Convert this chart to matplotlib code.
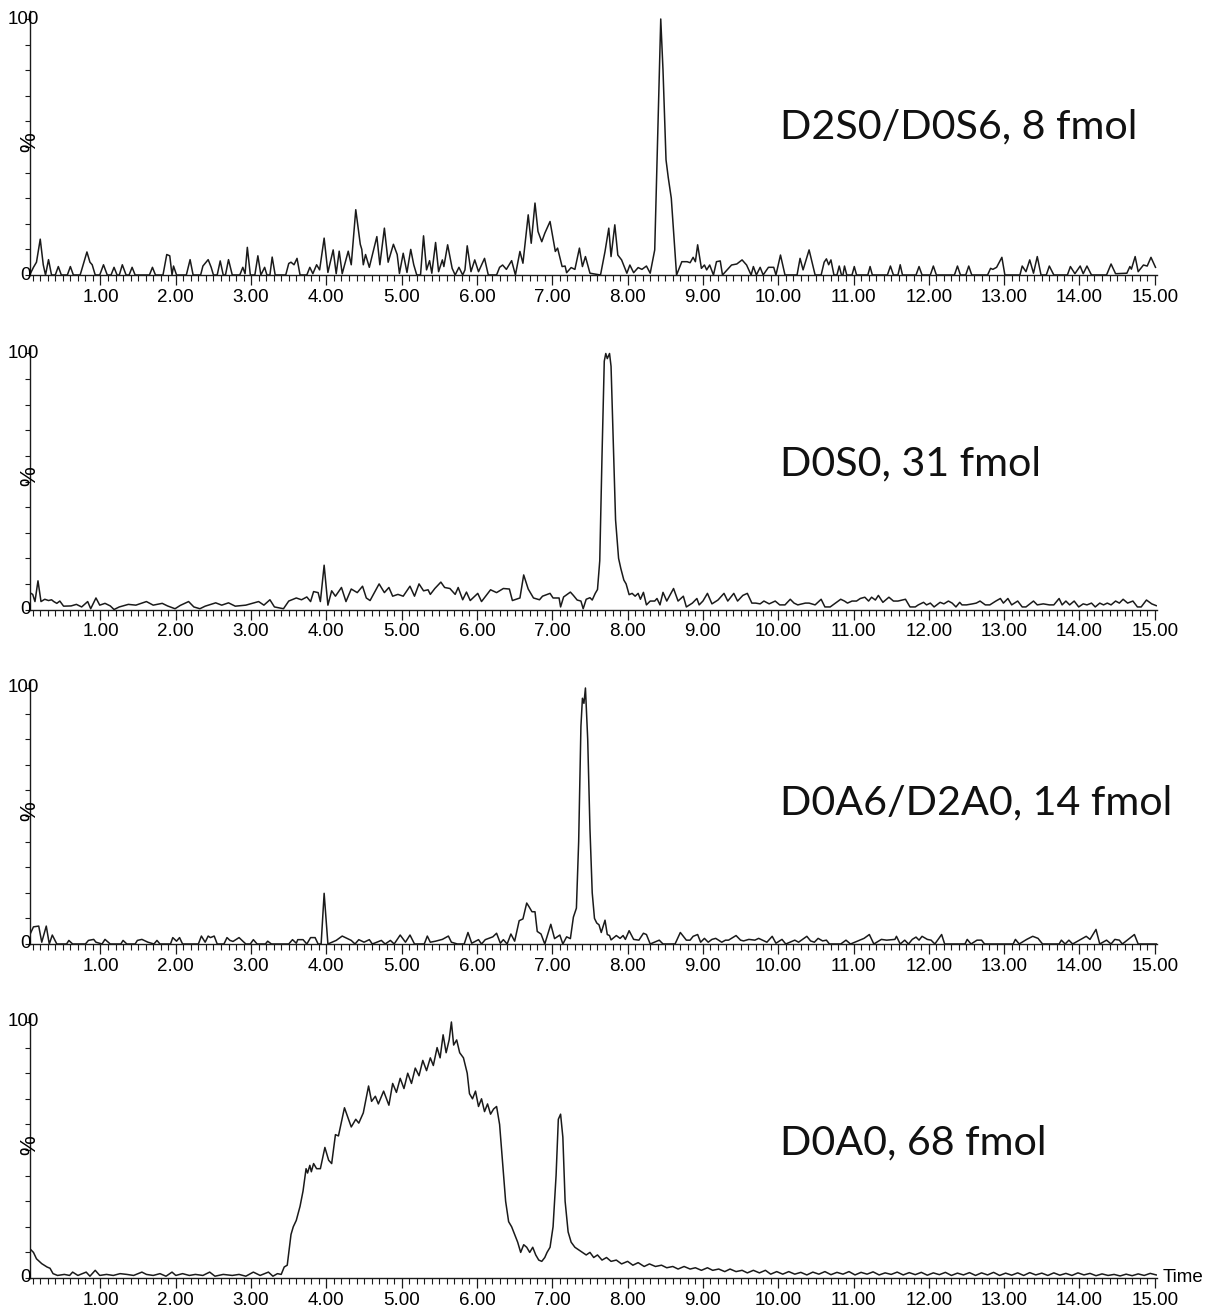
import matplotlib
matplotlib.use("Agg")
import matplotlib.pyplot as plt
from matplotlib.ticker import MultipleLocator, FixedLocator, NullFormatter

# ---------------- data: (time [min], relative intensity [%]) vertices
trace_d2s0 = [
    (0.06, 0), (0.11, 3), (0.15, 5), (0.20, 14), (0.24, 4), (0.27, 0), (0.31, 6), (0.35, 0),
    (0.40, 0), (0.44, 3.3), (0.48, 0), (0.56, 0), (0.60, 3.3), (0.64, 0), (0.73, 0), (0.82, 9),
    (0.86, 5), (0.89, 4), (0.93, 0), (0.99, 0), (1.04, 4), (1.09, 0), (1.14, 0), (1.18, 3),
    (1.22, 0), (1.25, 0), (1.29, 4), (1.34, 0), (1.38, 0), (1.42, 3), (1.46, 0), (1.65, 0),
    (1.69, 3), (1.73, 0), (1.83, 0), (1.88, 8), (1.92, 7.5), (1.95, 0), (1.97, 3.5), (2.01, 0),
    (2.14, 0), (2.19, 6), (2.23, 0), (2.33, 0), (2.36, 3.5), (2.43, 6), (2.47, 3), (2.50, 0),
    (2.55, 0), (2.59, 5.5), (2.63, 0), (2.66, 0), (2.70, 6), (2.75, 0), (2.85, 0), (2.89, 3),
    (2.92, 0.5), (2.95, 10.8), (2.99, 0), (3.05, 0), (3.09, 7.5), (3.13, 0), (3.18, 3), (3.21, 0),
    (3.25, 0), (3.28, 7), (3.32, 0), (3.46, 0), (3.50, 4.5), (3.53, 5), (3.57, 4), (3.61, 6.5),
    (3.65, 0), (3.74, 0), (3.78, 3), (3.82, 0.5), (3.87, 4), (3.91, 2), (3.97, 14.4), (4.02, 1),
    (4.09, 9.8), (4.13, 0.5), (4.17, 9.3), (4.21, 0.5), (4.29, 9.3), (4.33, 4), (4.39, 25.5),
    (4.45, 12), (4.47, 10), (4.49, 4), (4.52, 8), (4.57, 3), (4.67, 15), (4.71, 4), (4.77, 18.3),
    (4.82, 5), (4.89, 12), (4.94, 8), (4.97, 0.6), (5.02, 8.5), (5.07, 1), (5.12, 10), (5.16, 4),
    (5.20, 0), (5.25, 0), (5.29, 15.3), (5.33, 2), (5.37, 5.6), (5.40, 0.7), (5.45, 12.7),
    (5.49, 1.3), (5.54, 5.9), (5.56, 3.3), (5.61, 11.8), (5.67, 2.6), (5.71, 0), (5.76, 3),
    (5.81, 0), (5.84, 2), (5.87, 11.4), (5.92, 1.3), (5.97, 5.9), (6.02, 1.3), (6.10, 6.5),
    (6.15, 0), (6.26, 0), (6.30, 3), (6.34, 3.9), (6.39, 2.2), (6.46, 5.6), (6.51, 0), (6.57, 9.2),
    (6.61, 4.6), (6.68, 23.5), (6.72, 12.4), (6.77, 28.1), (6.81, 17), (6.86, 13), (6.90, 16.3),
    (6.97, 20.9), (7.04, 9.2), (7.07, 10.5), (7.13, 3.3), (7.17, 3.5), (7.19, 0.9), (7.25, 2.9),
    (7.30, 2.2), (7.36, 10.5), (7.40, 3.3), (7.44, 7.2), (7.50, 0.7), (7.64, 0), (7.70, 9.2),
    (7.75, 18.3), (7.78, 7.2), (7.83, 19.6), (7.87, 7.8), (7.92, 5.9), (7.99, 0.7), (8.03, 3.9),
    (8.08, 0.9), (8.14, 2.9), (8.19, 2.2), (8.25, 3.5), (8.30, 0.7), (8.36, 9.8), (8.40, 55),
    (8.44, 100), (8.47, 80), (8.51, 45), (8.54, 38), (8.58, 30), (8.65, 0), (8.72, 5.2),
    (8.79, 5.2), (8.83, 4.8), (8.87, 6.9), (8.90, 5.2), (8.93, 11.8), (8.98, 2.6), (9.02, 3.9),
    (9.05, 2), (9.09, 3.9), (9.14, 0), (9.18, 5.2), (9.23, 5.5), (9.26, 0), (9.38, 3.9),
    (9.45, 4.3), (9.52, 5.9), (9.58, 3.9), (9.64, 0), (9.67, 3.3), (9.71, 0), (9.76, 3), (9.80, 0),
    (9.87, 3), (9.94, 3), (9.97, 0), (10.03, 7.8), (10.09, 0), (10.25, 0), (10.29, 6.5),
    (10.33, 2), (10.41, 9.8), (10.49, 0), (10.57, 0), (10.61, 5), (10.64, 6.3), (10.67, 4),
    (10.70, 5.9), (10.74, 0), (10.78, 0), (10.81, 3.5), (10.84, 0), (10.86, 0), (10.88, 3.5),
    (10.91, 0), (10.98, 0), (11.01, 3.3), (11.04, 0), (11.19, 0), (11.22, 3.3), (11.25, 0),
    (11.45, 0), (11.49, 3.5), (11.53, 0), (11.59, 0), (11.62, 4), (11.65, 0), (11.83, 0),
    (11.87, 3.3), (11.91, 0), (12.02, 0), (12.06, 3.5), (12.10, 0), (12.34, 0), (12.38, 3.5),
    (12.42, 0), (12.49, 0), (12.53, 3.5), (12.57, 0), (12.78, 0), (12.82, 2.6), (12.85, 2.2),
    (12.90, 3), (12.97, 6.9), (13.01, 0), (13.21, 0), (13.24, 3.5), (13.29, 1.3), (13.34, 5.9),
    (13.39, 0.7), (13.44, 7.2), (13.49, 0), (13.56, 0), (13.60, 3.5), (13.66, 0), (13.84, 0),
    (13.88, 3.3), (13.94, 0.5), (14.01, 3.5), (14.05, 0.5), (14.10, 3.5), (14.16, 0), (14.36, 0),
    (14.42, 4.3), (14.48, 0.5), (14.63, 0.7), (14.67, 3.3), (14.69, 2.3), (14.74, 7.2),
    (14.78, 1.3), (14.85, 3.9), (14.90, 3.5), (14.95, 6.9), (15.01, 3),
]

trace_d0s0 = [
    (0.06, 6.6), (0.10, 5.9), (0.13, 3.1), (0.17, 11.2), (0.21, 3.1), (0.26, 4.0), (0.31, 3.5),
    (0.35, 3.8), (0.38, 3.1), (0.42, 2.4), (0.46, 3.3), (0.51, 1.3), (0.61, 1.4), (0.68, 2.0),
    (0.75, 1.0), (0.83, 3.1), (0.87, 0.3), (0.94, 4.5), (0.99, 1.7), (1.06, 2.4), (1.13, 1.4),
    (1.18, 0), (1.25, 1.0), (1.37, 2.0), (1.47, 1.7), (1.61, 3.1), (1.70, 1.7), (1.82, 2.4),
    (1.89, 1.4), (1.99, 0.3), (2.06, 1.6), (2.17, 3.1), (2.24, 1.0), (2.32, 0.3), (2.39, 1.3),
    (2.53, 2.6), (2.61, 1.7), (2.70, 2.6), (2.79, 1.3), (2.93, 1.7), (3.10, 3.1), (3.17, 1.7),
    (3.25, 3.8), (3.31, 1.0), (3.38, 0.6), (3.43, 0.3), (3.50, 3.3), (3.60, 4.5), (3.67, 3.8),
    (3.74, 4.9), (3.79, 3.1), (3.83, 7.0), (3.89, 6.6), (3.92, 3.1), (3.97, 17.3), (4.02, 1.7),
    (4.07, 7.3), (4.12, 5.2), (4.20, 8.6), (4.26, 3.1), (4.33, 8.0), (4.41, 6.6), (4.48, 9.1),
    (4.53, 4.5), (4.58, 3.5), (4.70, 10.0), (4.77, 6.6), (4.83, 8.6), (4.88, 5.2), (4.95, 5.9),
    (5.02, 5.2), (5.11, 9.1), (5.17, 5.2), (5.23, 10.0), (5.29, 7.3), (5.35, 7.7), (5.38, 5.9),
    (5.44, 8.2), (5.52, 10.7), (5.57, 8.6), (5.64, 8.2), (5.71, 5.9), (5.75, 8.6), (5.81, 3.8),
    (5.86, 6.8), (5.91, 3.5), (6.01, 6.3), (6.06, 3.1), (6.18, 7.7), (6.26, 6.6), (6.35, 8.2),
    (6.43, 8.0), (6.47, 3.5), (6.57, 4.5), (6.62, 13.5), (6.68, 8.0), (6.75, 4.5), (6.83, 3.8),
    (6.87, 5.2), (6.97, 6.3), (7.01, 4.5), (7.09, 4.5), (7.11, 1.0), (7.15, 4.9), (7.24, 6.8),
    (7.28, 5.5), (7.33, 3.7), (7.38, 3.3), (7.41, 0.3), (7.45, 4.0), (7.50, 4.6), (7.53, 3.7),
    (7.57, 6.3), (7.60, 7.8), (7.63, 19), (7.66, 60), (7.69, 97), (7.71, 100), (7.73, 98),
    (7.76, 100), (7.78, 95), (7.81, 65), (7.84, 35), (7.88, 20), (7.91, 16), (7.95, 11.5),
    (7.98, 10), (8.02, 5.8), (8.06, 6.3), (8.10, 5.2), (8.14, 6.3), (8.17, 4.0), (8.21, 6.7),
    (8.25, 1.8), (8.30, 3.3), (8.36, 3.3), (8.39, 4.3), (8.43, 1.8), (8.47, 6.7), (8.52, 3.3),
    (8.61, 8.2), (8.67, 3.3), (8.74, 5.2), (8.78, 1.0), (8.86, 2.5), (8.92, 4.3), (8.95, 1.8),
    (9.00, 3.3), (9.06, 6.3), (9.12, 2.2), (9.20, 3.7), (9.28, 6.3), (9.33, 3.3), (9.41, 6.3),
    (9.46, 3.3), (9.53, 5.5), (9.59, 6.3), (9.65, 2.5), (9.70, 2.5), (9.76, 2.2), (9.81, 3.3),
    (9.88, 2.2), (9.96, 3.3), (10.02, 1.8), (10.09, 1.8), (10.16, 4.0), (10.21, 2.5),
    (10.26, 1.8), (10.36, 2.5), (10.41, 2.5), (10.49, 1.8), (10.57, 4.0), (10.62, 1.0),
    (10.69, 1.0), (10.76, 2.5), (10.83, 4.0), (10.88, 3.3), (10.92, 2.5), (10.98, 3.3),
    (11.04, 3.3), (11.09, 4.3), (11.15, 4.8), (11.20, 3.3), (11.24, 4.8), (11.29, 3.7),
    (11.33, 5.5), (11.39, 2.8), (11.47, 4.8), (11.53, 3.3), (11.59, 3.3), (11.69, 4.0),
    (11.75, 1.0), (11.82, 1.0), (11.86, 1.8), (11.93, 2.8), (11.97, 1.8), (12.02, 2.5),
    (12.07, 1.0), (12.15, 2.8), (12.20, 2.2), (12.26, 3.3), (12.31, 2.5), (12.36, 1.0),
    (12.41, 2.8), (12.44, 1.8), (12.50, 1.8), (12.58, 2.2), (12.63, 2.5), (12.68, 3.3),
    (12.75, 1.8), (12.81, 1.8), (12.89, 3.3), (12.95, 4.3), (12.99, 2.5), (13.05, 4.3),
    (13.10, 1.8), (13.18, 3.3), (13.24, 1.0), (13.29, 1.0), (13.39, 3.3), (13.44, 1.8),
    (13.52, 2.2), (13.60, 1.8), (13.66, 1.8), (13.73, 4.3), (13.77, 1.8), (13.82, 3.3),
    (13.87, 1.8), (13.93, 3.3), (13.99, 1.0), (14.05, 2.2), (14.10, 1.8), (14.16, 2.5),
    (14.21, 1.0), (14.27, 2.5), (14.32, 1.8), (14.37, 2.5), (14.42, 1.8), (14.48, 3.3),
    (14.53, 2.5), (14.58, 4.0), (14.64, 2.5), (14.71, 3.3), (14.77, 1.0), (14.82, 1.0),
    (14.89, 3.7), (14.96, 2.2), (15.02, 1.5),
]

trace_d0a6 = [
    (0.06, 3.5), (0.11, 6.7), (0.18, 7), (0.22, 0.7), (0.28, 7), (0.32, 0), (0.36, 3.5),
    (0.42, 0), (0.55, 0), (0.58, 1.4), (0.63, 0), (0.80, 0), (0.84, 1.4), (0.91, 1.8),
    (0.94, 0.7), (1.02, 0), (1.06, 1.8), (1.13, 0), (1.27, 0), (1.30, 1.4), (1.35, 0), (1.46, 0),
    (1.49, 1.4), (1.55, 1.8), (1.63, 0.7), (1.71, 0), (1.75, 1.4), (1.79, 0), (1.93, 0),
    (1.96, 2.5), (2.01, 1.1), (2.05, 2.5), (2.09, 0), (2.30, 0), (2.34, 3.1), (2.39, 0.7),
    (2.43, 3.1), (2.46, 2.5), (2.51, 3.1), (2.55, 0), (2.64, 0), (2.68, 2.5), (2.72, 1.4),
    (2.76, 1.0), (2.84, 2.5), (2.93, 0), (2.99, 0), (3.03, 1.7), (3.08, 0), (3.19, 0),
    (3.22, 1.1), (3.27, 0), (3.50, 0), (3.55, 1.7), (3.60, 0.3), (3.62, 1.7), (3.69, 1.7),
    (3.74, 0), (3.79, 2.5), (3.85, 2.5), (3.89, 0), (3.93, 0), (3.97, 19.8), (4.02, 0),
    (4.13, 1.4), (4.21, 3.1), (4.33, 1.4), (4.38, 0), (4.43, 1.7), (4.50, 0.7), (4.57, 1.7),
    (4.61, 0), (4.73, 1.4), (4.78, 0), (4.85, 1.4), (4.90, 0), (4.98, 3.5), (5.05, 0.7),
    (5.11, 3.5), (5.17, 0), (5.30, 0), (5.34, 3.1), (5.38, 0.7), (5.45, 1.1), (5.54, 1.8),
    (5.62, 3.1), (5.66, 0.7), (5.74, 0), (5.83, 0), (5.88, 4.5), (5.93, 0.3), (6.02, 1.7),
    (6.06, 0), (6.11, 1.7), (6.21, 2.8), (6.26, 4.2), (6.31, 0.3), (6.35, 1.7), (6.40, 0),
    (6.45, 3.9), (6.50, 1.1), (6.56, 9.1), (6.61, 9.8), (6.66, 16), (6.69, 14.6), (6.73, 12.6),
    (6.77, 12.6), (6.80, 4.9), (6.85, 3.9), (6.90, 0), (6.98, 7.7), (7.03, 2.1), (7.10, 3.5),
    (7.14, 0), (7.19, 2.8), (7.24, 2.1), (7.28, 10.5), (7.32, 14), (7.35, 40), (7.38, 85),
    (7.40, 96), (7.42, 94), (7.44, 100), (7.47, 80), (7.50, 45), (7.53, 20), (7.56, 10),
    (7.59, 8.2), (7.62, 7.5), (7.65, 4.5), (7.70, 9.3), (7.73, 3.7), (7.76, 3.3), (7.78, 1.6),
    (7.85, 3.3), (7.90, 2.2), (7.94, 3.3), (7.97, 1.8), (8.02, 5.2), (8.08, 1.8), (8.15, 1.5),
    (8.21, 4.2), (8.25, 3.7), (8.30, 0), (8.42, 1.5), (8.47, 0), (8.63, 0), (8.70, 4.5),
    (8.78, 1.5), (8.83, 1.5), (8.87, 3), (8.93, 3.7), (8.97, 0.7), (9.02, 2.2), (9.07, 0.7),
    (9.12, 1.8), (9.17, 2.2), (9.25, 0.7), (9.30, 1.5), (9.34, 1.5), (9.44, 3.3), (9.50, 1.5),
    (9.54, 1.2), (9.61, 1.8), (9.69, 1.5), (9.74, 2.2), (9.79, 1.5), (9.85, 0.7), (9.92, 3),
    (9.97, 0.3), (10.05, 1.8), (10.10, 0), (10.22, 1.5), (10.27, 0.7), (10.38, 3), (10.43, 1.2),
    (10.48, 0.7), (10.53, 2.2), (10.59, 1.2), (10.64, 1.5), (10.68, 0), (10.83, 0), (10.90, 1.5),
    (10.96, 0), (11.14, 2.2), (11.21, 3.7), (11.27, 0), (11.37, 1.8), (11.44, 1.5), (11.55, 1.8),
    (11.57, 3), (11.62, 0), (11.68, 1.5), (11.73, 0), (11.78, 1.8), (11.83, 2.7), (11.87, 1.5),
    (11.91, 3), (11.98, 1.8), (12.03, 1.5), (12.08, 0), (12.17, 3.7), (12.21, 0), (12.48, 0),
    (12.51, 1.8), (12.56, 0), (12.64, 1.5), (12.70, 1.5), (12.74, 0), (13.12, 0), (13.15, 1.8),
    (13.20, 0), (13.30, 1.8), (13.38, 3), (13.45, 2.2), (13.51, 0), (13.73, 0), (13.76, 1.5),
    (13.81, 0), (13.86, 1.5), (13.91, 0), (14.09, 3), (14.14, 1.8), (14.22, 5.7), (14.27, 0),
    (14.36, 1.5), (14.42, 0), (14.47, 1.8), (14.53, 1.5), (14.57, 0), (14.73, 3.7), (14.78, 0),
    (15.02, 0),
]

trace_d0a0 = [
    (0.06, 11.5), (0.11, 10), (0.15, 7.5), (0.22, 5.6), (0.29, 4.3), (0.33, 3.8), (0.37, 1.7),
    (0.43, 1), (0.52, 1.4), (0.59, 1), (0.63, 2.3), (0.70, 1), (0.81, 2.3), (0.86, 0.7),
    (0.93, 3), (0.99, 1), (1.08, 1.4), (1.17, 1), (1.26, 1.7), (1.35, 1.4), (1.44, 1),
    (1.55, 2.3), (1.61, 1.4), (1.70, 1), (1.79, 1.7), (1.87, 0.7), (1.95, 2.3), (2.00, 1),
    (2.09, 1.7), (2.18, 1), (2.26, 1.4), (2.36, 1), (2.45, 2.3), (2.52, 0.7), (2.63, 1.4),
    (2.75, 1), (2.84, 1.4), (2.93, 0.7), (3.03, 2.3), (3.12, 1), (3.23, 2.3), (3.29, 0.7),
    (3.35, 1.7), (3.40, 1.4), (3.44, 4.3), (3.48, 5), (3.53, 17), (3.56, 20), (3.60, 22.5),
    (3.65, 28), (3.69, 34), (3.73, 42.7), (3.75, 41), (3.78, 44), (3.80, 41.5), (3.83, 44.7),
    (3.87, 42.7), (3.92, 42.7), (3.98, 51), (4.03, 46), (4.07, 44.7), (4.12, 56), (4.16, 55.5),
    (4.24, 66.5), (4.33, 59), (4.39, 62), (4.43, 60.5), (4.49, 64.5), (4.56, 75), (4.60, 69),
    (4.65, 71), (4.69, 68), (4.76, 73), (4.83, 67.5), (4.88, 76), (4.93, 72.5), (4.98, 78),
    (5.03, 74), (5.08, 80), (5.13, 76), (5.18, 82), (5.23, 79), (5.28, 85), (5.33, 81),
    (5.38, 86), (5.42, 83), (5.47, 90), (5.51, 86), (5.55, 95), (5.59, 88), (5.63, 93),
    (5.66, 100), (5.69, 91), (5.73, 93), (5.77, 88), (5.82, 86), (5.87, 80), (5.90, 72),
    (5.94, 70), (5.98, 73), (6.02, 67), (6.06, 70), (6.10, 65), (6.14, 68), (6.18, 64),
    (6.22, 66), (6.26, 67), (6.30, 60), (6.34, 45), (6.38, 30), (6.42, 22), (6.46, 20),
    (6.50, 17), (6.54, 14), (6.58, 10), (6.62, 13), (6.66, 12), (6.70, 10), (6.74, 12),
    (6.78, 9), (6.82, 7), (6.86, 6.5), (6.90, 8), (6.93, 10), (6.97, 12), (7.01, 20), (7.05, 40),
    (7.08, 62), (7.11, 64), (7.14, 55), (7.17, 30), (7.21, 18), (7.25, 14), (7.30, 12),
    (7.35, 11), (7.40, 10), (7.45, 9), (7.50, 10), (7.55, 8), (7.60, 9), (7.66, 7), (7.72, 8),
    (7.78, 6.5), (7.85, 7), (7.92, 5.5), (8.00, 6.5), (8.07, 5), (8.14, 6), (8.22, 4.5),
    (8.29, 5.5), (8.37, 4.5), (8.45, 5), (8.52, 4), (8.60, 4.5), (8.67, 3.5), (8.75, 4.5),
    (8.83, 3.5), (8.90, 4), (8.98, 3), (9.06, 4), (9.13, 3), (9.21, 3.5), (9.29, 2.5),
    (9.36, 3.5), (9.44, 2.5), (9.52, 3), (9.59, 2), (9.67, 3), (9.75, 2), (9.83, 3), (9.90, 1.5),
    (9.98, 2.5), (10.06, 1.5), (10.14, 2.5), (10.22, 1.5), (10.30, 2.2), (10.38, 1.2),
    (10.46, 2.3), (10.54, 1.5), (10.62, 2.5), (10.70, 1.3), (10.78, 2.2), (10.86, 1.5),
    (10.94, 2.5), (11.02, 1.2), (11.10, 2.2), (11.18, 1.5), (11.26, 2.4), (11.34, 1.2),
    (11.42, 2.0), (11.50, 1.4), (11.58, 2.3), (11.66, 1.2), (11.74, 2.1), (11.82, 1.3),
    (11.90, 2.2), (11.98, 1.1), (12.06, 2.0), (12.14, 1.3), (12.22, 2.2), (12.30, 1.0),
    (12.38, 1.9), (12.46, 1.2), (12.54, 2.1), (12.62, 1.0), (12.70, 2.0), (12.78, 1.2),
    (12.86, 2.2), (12.94, 1.0), (13.02, 1.9), (13.10, 1.1), (13.18, 2.0), (13.26, 1.0),
    (13.34, 2.1), (13.42, 1.2), (13.50, 1.9), (13.58, 1.0), (13.66, 2.0), (13.74, 1.1),
    (13.82, 1.8), (13.90, 1.0), (13.98, 2.0), (14.06, 1.2), (14.14, 1.8), (14.22, 0.9),
    (14.30, 1.6), (14.38, 1.0), (14.46, 1.4), (14.54, 0.8), (14.62, 1.5), (14.70, 0.9),
    (14.78, 1.6), (14.86, 1.0), (14.94, 1.8), (15.02, 1.2),
]

traces = [trace_d2s0, trace_d0s0, trace_d0a6, trace_d0a0]
trace_labels = ["D2S0/D0S6, 8 fmol", "D0S0, 31 fmol", "D0A6/D2A0, 14 fmol", "D0A0, 68 fmol"]
label_levels = [57.8, 57.0, 55.0, 52.7]
time_ticks = [1, 2, 3, 4, 5, 6, 7, 8, 9, 10, 11, 12, 13, 14, 15]
time_tick_labels = ["1.00", "2.00", "3.00", "4.00", "5.00", "6.00", "7.00", "8.00",
                    "9.00", "10.00", "11.00", "12.00", "13.00", "14.00", "15.00"]

# ---------------- layout
W, H = 1216, 1309
fig = plt.figure(figsize=(W / 100, H / 100), dpi=100)
plt.rcParams["font.family"] = ["Liberation Sans", "DejaVu Sans"]

AX_L, AX_R = 30, 1157
XMIN, XMAX = 0.064, 15.03
Y0_PX = [275, 609.5, 944, 1278]
PX_PER_PCT = 2.56
YMAX = 103
TICK_FS = 13.5
LINE_C = "#1a1a1a"

for i, (trace, lab, lev, y0) in enumerate(zip(traces, trace_labels, label_levels, Y0_PX)):
    h_px = YMAX * PX_PER_PCT
    ax = fig.add_axes([AX_L / W, 1 - y0 / H, (AX_R - AX_L) / W, h_px / H])
    t = [p[0] for p in trace]
    v = [p[1] for p in trace]
    ax.plot(t, v, color=LINE_C, lw=1.1, solid_joinstyle="round")
    ax.set_xlim(XMIN, XMAX)
    ax.set_ylim(0, YMAX)
    ax.patch.set_alpha(0)
    for s in ("top", "right"):
        ax.spines[s].set_visible(False)
    for s in ("left", "bottom"):
        ax.spines[s].set_linewidth(1.0)
        ax.spines[s].set_color(LINE_C)

    # x ticks
    ax.xaxis.set_major_locator(FixedLocator(time_ticks))
    ax.set_xticklabels(time_tick_labels)
    ax.xaxis.set_minor_locator(MultipleLocator(0.1))
    ax.tick_params(axis="x", which="major", direction="out", length=7, width=0.9,
                   color=LINE_C, labelsize=TICK_FS, pad=3)
    ax.tick_params(axis="x", which="minor", direction="out", length=4, width=0.8,
                   color=LINE_C)

    # y ticks (unlabelled every 10 %); labels 0 and 100 drawn by hand
    ax.yaxis.set_major_locator(MultipleLocator(10))
    ax.yaxis.set_major_formatter(NullFormatter())
    ax.tick_params(axis="y", which="major", direction="out", length=3.5, width=0.8,
                   color=LINE_C)
    ax.annotate("100", xy=(0, 100), xycoords=("axes fraction", "data"), xytext=(9, 0),
                textcoords="offset pixels", ha="right", va="center", fontsize=TICK_FS)
    ax.annotate("0", xy=(0, 0), xycoords=("axes fraction", "data"), xytext=(1, 0),
                textcoords="offset pixels", ha="right", va="center", fontsize=TICK_FS)
    ax.annotate("%", xy=(0, 52), xycoords=("axes fraction", "data"), xytext=(0, 0),
                textcoords="offset pixels", ha="center", va="center", rotation=90,
                fontsize=16)

    # trace label
    ax.text(10.02, lev, lab, ha="left", va="center", fontsize=29.7,
            family=["Lato", "DejaVu Sans"], color="#111111")

    if i == len(traces) - 1:
        ax.annotate("Time", xy=(1, 0), xycoords="axes fraction", xytext=(6, 0),
                    textcoords="offset pixels", ha="left", va="center", fontsize=TICK_FS)

fig.savefig("out.png", dpi=100)
